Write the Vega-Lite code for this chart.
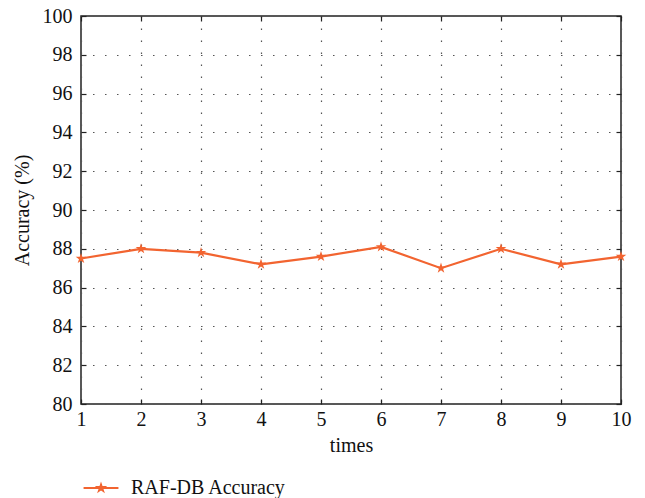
{
  "$schema": "https://vega.github.io/schema/vega-lite/v6.json",
  "width": 540,
  "height": 388,
  "autosize": {"type": "none"},
  "padding": {"left": 81, "top": 16, "right": 24, "bottom": 94},
  "background": "white",
  "config": {
    "font": "Liberation Serif",
    "view": {"stroke": "#222222", "strokeWidth": 1.5}
  },
  "data": {
    "values": [
      {"times": 1, "acc": 87.5},
      {"times": 2, "acc": 88.0},
      {"times": 3, "acc": 87.8},
      {"times": 4, "acc": 87.2},
      {"times": 5, "acc": 87.6},
      {"times": 6, "acc": 88.1},
      {"times": 7, "acc": 87.0},
      {"times": 8, "acc": 88.0},
      {"times": 9, "acc": 87.2},
      {"times": 10, "acc": 87.6}
    ]
  },
  "layer": [
    {
      "encoding": {
        "x": {
          "field": "times", "type": "quantitative",
          "scale": {"domain": [1, 10], "nice": false, "zero": false},
          "axis": {
            "values": [1, 2, 3, 4, 5, 6, 7, 8, 9, 10], "format": "d", "labelFlush": false,
            "grid": true, "gridDash": [1.5, 10.5], "gridColor": "#555555", "gridWidth": 1.2,
            "domain": false, "tickSize": -5, "tickColor": "#222222", "tickWidth": 1.2,
            "labelPadding": 10, "labelFontSize": 20, "labelColor": "#111111",
            "title": "times", "titleFontSize": 20, "titleFontWeight": "normal", "titleColor": "#111111", "titlePadding": 6
          }
        },
        "y": {
          "field": "acc", "type": "quantitative",
          "scale": {"domain": [80, 100], "nice": false, "zero": false},
          "axis": {
            "values": [80, 82, 84, 86, 88, 90, 92, 94, 96, 98, 100], "labelFlush": false,
            "grid": true, "gridDash": [1.5, 10.5], "gridDashOffset": 0.5, "gridColor": "#555555", "gridWidth": 1.2,
            "domain": false, "tickSize": -5, "tickColor": "#222222", "tickWidth": 1.2,
            "labelPadding": 14, "labelFontSize": 20, "labelColor": "#111111",
            "title": "Accuracy (%)", "titleFontSize": 20, "titleFontWeight": "normal", "titleColor": "#111111", "titlePadding": 10
          }
        }
      },
      "layer": [
        {
          "mark": {"type": "line", "color": "#F26430", "strokeWidth": 2.2}
        },
        {
          "mark": {
            "type": "point", "filled": true, "opacity": 1, "size": 125,
            "shape": "M0,-1L0.2245,-0.309L0.951,-0.309L0.363,0.118L0.588,0.809L0,0.382L-0.588,0.809L-0.363,0.118L-0.951,-0.309L-0.2245,-0.309Z"
          },
          "encoding": {
            "color": {
              "datum": "RAF-DB Accuracy",
              "scale": {"range": ["#F26430"]},
              "legend": {
                "title": null, "orient": "none", "legendX": 10, "legendY": 462,
                "symbolType": "M-5.2,0L5.2,0M0,-1L0.2245,-0.309L0.951,-0.309L0.363,0.118L0.588,0.809L0,0.382L-0.588,0.809L-0.363,0.118L-0.951,-0.309L-0.2245,-0.309Z",
                "symbolSize": 45, "symbolStrokeWidth": 2, "symbolStrokeColor": "#F26430", "symbolFillColor": "#F26430", "symbolOpacity": 1,
                "labelFontSize": 20, "labelColor": "#111111", "labelOffset": 20
              }
            }
          }
        }
      ]
    },
    {
      "mark": {"type": "point", "opacity": 0},
      "encoding": {
        "x": {
          "field": "times", "type": "quantitative",
          "scale": {"domain": [1, 10], "nice": false, "zero": false},
          "axis": {"orient": "top", "values": [1, 2, 3, 4, 5, 6, 7, 8, 9, 10], "labels": false, "title": null, "grid": false, "domain": false, "tickSize": -5, "tickColor": "#222222", "tickWidth": 1.2}
        },
        "y": {
          "field": "acc", "type": "quantitative",
          "scale": {"domain": [80, 100], "nice": false, "zero": false},
          "axis": {"orient": "right", "values": [80, 82, 84, 86, 88, 90, 92, 94, 96, 98, 100], "labels": false, "title": null, "grid": false, "domain": false, "tickSize": -5, "tickColor": "#222222", "tickWidth": 1.2}
        }
      }
    }
  ],
  "resolve": {"scale": {"x": "independent", "y": "independent"}}
}
